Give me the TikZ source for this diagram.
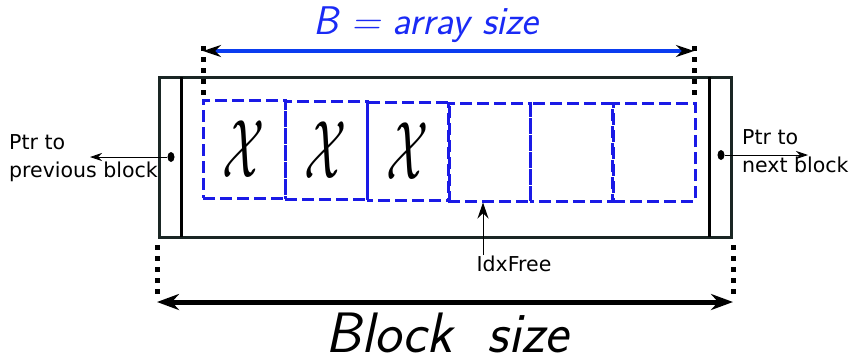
\documentclass[tikz,border=0pt]{standalone}
\usepackage{graphicx}
\usepackage{fontspec}
\newfontfamily\djv{DejaVu Sans}
\usetikzlibrary{arrows.meta,shapes.geometric}
\definecolor{outerc}{HTML}{1A2624}
\definecolor{bluec}{HTML}{1A1AE6}
\definecolor{arrblue}{HTML}{0A3CF0}
\definecolor{txtblue}{HTML}{1A2AF5}
\newcommand{\bigchi}{\scalebox{4.9}[8.3]{$\mathcal{X}$}}
\begin{document}
\begin{tikzpicture}[x=1pt,y=-1pt,
  cellbox/.style={draw=bluec, line width=3pt, dash pattern=on 12pt off 5pt, minimum width=82pt, minimum height=98pt, inner sep=0pt},
  dotline/.style={line width=5pt, dash pattern=on 5pt off 6pt},
  smalltxt/.style={font=\djv\fontsize{20.5}{28}\selectfont, align=left, inner sep=0pt},
  ptrdot/.style={ellipse, fill=black, minimum width=7pt, minimum height=10pt, inner sep=0pt}
]
\useasboundingbox (0,0) rectangle (854,362);
% outer block
\node[draw=outerc, line width=3pt, minimum width=572pt, minimum height=160pt, inner sep=0pt] (block) at (445,157) {};
\coordinate (lin1) at (181,77);
\coordinate (lin2) at (181,237);
\coordinate (rin1) at (709,77);
\coordinate (rin2) at (709,237);
\draw[line width=3pt] (lin1) -- (lin2);
\draw[line width=3pt] (rin1) -- (rin2);
% cells
\node[cellbox] (c1) at (244,149) {\bigchi};
\node[cellbox] (c2) at (326,150) {\bigchi};
\node[cellbox, dash phase=6pt] (c3) at (408,151) {\bigchi};
\node[cellbox] (c4) at (489,152) {};
\node[cellbox, dash phase=8pt] (c5) at (571,152) {};
\node[cellbox] (c6) at (654,152) {};
% pointers
\node[ptrdot] (pd) at (171,157) {};
\node[ptrdot] (nd) at (721,155) {};
\coordinate (pe) at (90,157);
\coordinate (ne) at (808,155);
\draw[-{Stealth[length=12pt,width=8pt]}, line width=0.8pt] (pd) -- (pe);
\draw[-{Stealth[length=12pt,width=8pt]}, line width=0.8pt] (nd) -- (ne);
\node[smalltxt, anchor=west] (pt) at (9,158) {Ptr to\\previous block};
\node[smalltxt, anchor=west] (nt) at (742,151) {Ptr to\\next block};
% IdxFree
\node[smalltxt, anchor=north] (idx) at (514,256) {IdxFree};
\coordinate (idxs) at (483,255);
\draw[-{Stealth[length=16pt,width=11pt]}, line width=1pt] (idxs) -- (idxs |- c4.south);
% top dimension
\coordinate (t1a) at (203,46);
\coordinate (t1b) at (203,95);
\coordinate (t2a) at (694,46);
\coordinate (t2b) at (694,95);
\draw[dotline] (t1a) -- (t1b);
\draw[dotline] (t2a) -- (t2b);
\coordinate (ba) at (203,51);
\coordinate (bb) at (694,51);
\draw[{Stealth[length=18pt,width=12pt,black]}-{Stealth[length=18pt,width=12pt,black]}, line width=4pt, draw=arrblue] (ba) -- (bb);
\node[text=txtblue, font=\sffamily\slshape\fontsize{40}{40}\selectfont, inner sep=0pt] (blab) at (426,25) {B = array size};
% bottom dimension
\coordinate (d1a) at (157,245);
\coordinate (d1b) at (157,295);
\coordinate (d2a) at (733,245);
\coordinate (d2b) at (733,295);
\draw[dotline] (d1a) -- (d1b);
\draw[dotline] (d2a) -- (d2b);
\coordinate (sa) at (157,302);
\coordinate (sb) at (733,302);
\draw[{Stealth[length=22pt,width=16pt]}-{Stealth[length=22pt,width=16pt]}, line width=5pt] (sa) -- (sb);
\node[font=\sffamily\slshape\fontsize{57}{57}\selectfont, inner sep=0pt] (slab) at (447,333) {Block\ \ size};
\end{tikzpicture}
\end{document}
